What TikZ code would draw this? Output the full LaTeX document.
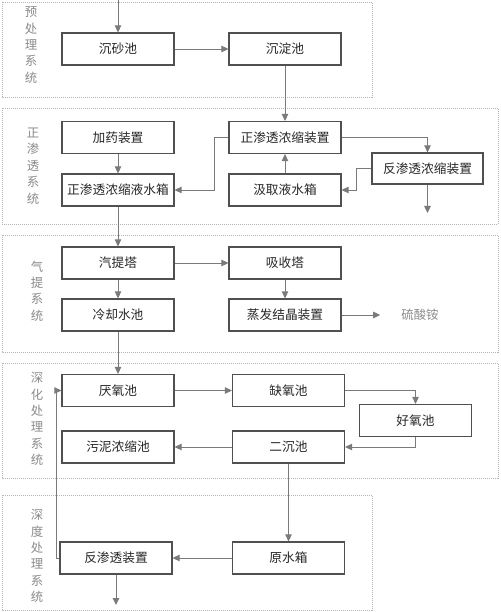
\documentclass[tikz,border=0pt]{standalone}
\usepackage{fontspec}
\newfontfamily\cjk{Noto Sans CJK SC}
\usetikzlibrary{arrows.meta,positioning}
\definecolor{boxline}{HTML}{505050}
\definecolor{flow}{HTML}{7A7A7A}
\definecolor{syslabel}{HTML}{8A8A8A}
\definecolor{framec}{HTML}{B4B4B4}
\tikzset{
  box/.style={draw=boxline,line width=1.2pt,minimum width=112pt,minimum height=32pt,
              inner sep=0pt,font=\cjk\fontsize{12.7}{14}\selectfont,text=black!85},
  arrow/.style={-{Triangle[length=7pt,width=6.5pt]},draw=flow,line width=0.9pt},
  frame/.style={draw=framec,line width=0.6pt,dash pattern=on 1pt off 1pt},
  syslbl/.style={align=center,text=syslabel,font=\cjk\fontsize{12.4}{16.4}\selectfont,inner sep=0pt},
}
\begin{document}
\begin{tikzpicture}[x=1pt,y=-1pt]
\useasboundingbox (0,0) rectangle (500,612);
\draw[frame] (2,2) rectangle (372,97);
\draw[frame] (2,108) rectangle (498,224);
\draw[frame] (2,235) rectangle (498,352);
\draw[frame] (2,363) rectangle (498,478);
\draw[frame] (2,495) rectangle (372,610);
\node[syslbl] (lblpre) at (31,45) {预\\处\\理\\系\\统};
\node[syslbl] (lblfo) at (33,166) {正\\渗\\透\\系\\统};
\node[syslbl] (lblstrip) at (37,291) {气\\提\\系\\统};
\node[syslbl] (lbldeep) at (37,419) {深\\化\\处\\理\\系\\统};
\node[syslbl] (lbladv) at (37,556) {深\\度\\处\\理\\系\\统};
\node[box] (sand) at (118,49) {沉砂池};
\node[box] (settle) at (285,49) {沉淀池};
\node[box] (dosing) at (118,137.5) {加药装置};
\node[box] (fotank) at (118,190) {正渗透浓缩液水箱};
\node[box] (foconc) at (285,137.5) {正渗透浓缩装置};
\node[box] (drawtank) at (285,190) {汲取液水箱};
\node[box,minimum width=111pt,minimum height=31pt] (roconc) at (427.5,168.5) {反渗透浓缩装置};
\node[box] (strip) at (118,263) {汽提塔};
\node[box] (absorb) at (285,263) {吸收塔};
\node[box] (cool) at (118,315) {冷却水池};
\node[box] (evap) at (285,315) {蒸发结晶装置};
\node[syslbl] (salt) at (420,315) {硫酸铵};
\node[box] (anaer) at (118,390.5) {厌氧池};
\node[box] (anox) at (288.5,390.5) {缺氧池};
\node[box] (aer) at (415.5,420.5) {好氧池};
\node[box] (sludge) at (118,447) {污泥浓缩池};
\node[box] (clar) at (288.5,447) {二沉池};
\node[box] (raw) at (288.5,558) {原水箱};
\node[box] (rodev) at (116,558) {反渗透装置};
\coordinate (inflow) at (118,0);
\coordinate (roout) at (427.5,213);
\coordinate (rodevout) at (116,605);
\draw[arrow] (inflow) -- (sand);
\draw[arrow] (sand) -- (settle);
\draw[arrow] (settle) -- (foconc);
\draw[arrow] (dosing) -- (fotank);
\draw[arrow] (foconc.west) -- ++(-14,0) |- (fotank.east);
\draw[arrow] (foconc.east) -| (roconc.north);
\draw[arrow] (roconc.west) -- ++(-15,0) |- (drawtank.east);
\draw[arrow] (drawtank) -- (foconc);
\draw[arrow] (roconc) -- (roout);
\draw[arrow] (fotank) -- (strip);
\draw[arrow] (strip) -- (absorb);
\draw[arrow] (strip) -- (cool);
\draw[arrow] (absorb) -- (evap);
\draw[arrow,shorten >=21pt] (evap) -- (salt);
\draw[arrow] (cool) -- (anaer);
\draw[arrow] (anaer) -- (anox);
\draw[arrow] (anox.east) -| (aer.north);
\draw[arrow] (aer.south) |- (clar.east);
\draw[arrow] (clar) -- (sludge);
\draw[arrow] (clar) -- (raw);
\draw[arrow] (raw) -- (rodev);
\draw[arrow] (rodev.west) -- ++(-3,0) |- (anaer.west);
\draw[arrow] (rodev) -- (rodevout);
\end{tikzpicture}
\end{document}
